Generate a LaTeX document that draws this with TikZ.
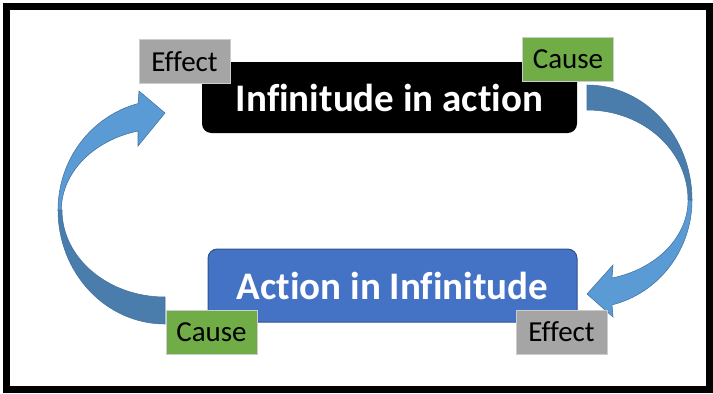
\documentclass[tikz,border=0pt]{standalone}
\usepackage{fontspec}
\setmainfont{Carlito}[Ligatures={NoCommon}]
\definecolor{lightarrow}{HTML}{5B9BD5}
\definecolor{darkarrow}{HTML}{4A7DAB}
\definecolor{arrowline}{HTML}{41719C}
\definecolor{boxblue}{HTML}{4472C4}
\definecolor{boxblueline}{HTML}{2F528F}
\definecolor{labgray}{HTML}{A5A5A5}
\definecolor{labgreen}{HTML}{70AD47}
\begin{document}
\begin{tikzpicture}[x=0.75pt,y=-0.75pt,
  bigbox/.style={rounded corners=7pt, inner sep=0pt, text=white,
    font=\fontsize{29.25}{34}\selectfont\bfseries},
  tagbox/.style={draw=white!80!black, line width=0.75pt, inner sep=0pt,
    minimum width=68.25pt, minimum height=33pt,
    font=\fontsize{21.75}{26}\selectfont, text=black},
  effectbox/.style={tagbox, fill=labgray},
  causebox/.style={tagbox, fill=labgreen},
  backpart/.style={fill=darkarrow, draw=arrowline, line width=0.4pt},
  frontpart/.style={fill=lightarrow, draw=arrowline, line width=0.4pt}
]
\useasboundingbox (0,0) rectangle (713,393);
\draw[line width=5.25pt] (6.5,6.5) rectangle (709.5,389.5);

% left curved arrow (from lower Cause up to upper Effect)
\path[backpart] (165,297) -- (165,324)
  arc[start angle=90,end angle=180,x radius=107,y radius=114] -- (62,210)
  arc[start angle=180,end angle=90,x radius=103,y radius=87] -- cycle;
\path[frontpart] (58,210)
  arc[start angle=180,end angle=255.4,x radius=107,y radius=110]
  -- (139,91) -- (165,113) -- (138,146) -- (138,131)
  arc[start angle=255.2,end angle=180,x radius=103,y radius=82] -- cycle;

% right curved arrow (from upper Cause down to lower Effect)
\path[backpart] (587,110) -- (587,85)
  arc[start angle=-90,end angle=0,x radius=105,y radius=115] -- (688,200)
  arc[start angle=0,end angle=-90,x radius=101,y radius=90] -- cycle;
\path[frontpart] (692,200)
  arc[start angle=0,end angle=76.2,x radius=105,y radius=108]
  -- (613,317) -- (587,294) -- (613,265) -- (612,278)
  arc[start angle=75.7,end angle=0,x radius=101,y radius=80.5] -- cycle;

\node[bigbox, fill=black, minimum width=281.25pt, minimum height=53.25pt]
  (top) at (389.5,97.5) {Infinitude in action};
\node[bigbox, fill=boxblue, draw=boxblueline, line width=0.75pt,
  minimum width=276.75pt, minimum height=54.75pt]
  (bot) at (392.5,285.5) {Action in Infinitude};
\node[effectbox] (e1) at (184.5,61.5) {Effect};
\node[causebox] (c1) at (568,59) {Cause};
\node[causebox] (c2) at (211.5,332) {Cause};
\node[effectbox] (e2) at (561.5,332) {Effect};
\end{tikzpicture}
\end{document}
